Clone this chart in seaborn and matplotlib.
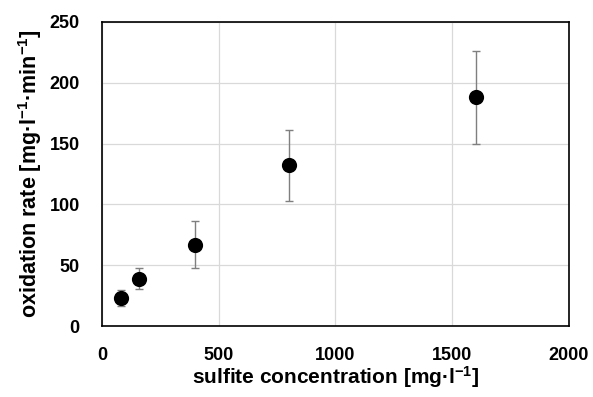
import matplotlib
matplotlib.use("Agg")
import matplotlib.pyplot as plt
import seaborn as sns
import pandas as pd

concentration = [80, 160, 400, 800, 1600]
rate = [23, 39, 67, 132, 188]
rate_err = [6.5, 8.5, 19.5, 29, 38.5]
x_ticks = [0, 500, 1000, 1500, 2000]
y_ticks = [0, 50, 100, 150, 200, 250]

sns.set_theme(style="whitegrid")
FONT = 'Liberation Sans'
plt.rcParams['font.family'] = [FONT, 'DejaVu Sans']
plt.rcParams['font.weight'] = 'bold'
plt.rcParams['mathtext.fontset'] = 'custom'
plt.rcParams['mathtext.rm'] = FONT + ':bold'
plt.rcParams['mathtext.it'] = FONT + ':bold'
plt.rcParams['mathtext.bf'] = FONT + ':bold'
plt.rcParams['mathtext.default'] = 'rm'

df = pd.DataFrame({"conc": concentration, "rate": rate, "err": rate_err})

fig, ax = plt.subplots(figsize=(5.93, 3.97), dpi=100)
fig.subplots_adjust(left=0.172, right=0.9595, top=0.9446, bottom=0.1788)

ax.errorbar(df["conc"], df["rate"], yerr=df["err"], fmt='none',
            ecolor='#7f7f7f', elinewidth=1.0, capsize=3, capthick=1.0, zorder=2)
sns.scatterplot(data=df, x="conc", y="rate", ax=ax, color='black', s=120,
                edgecolor='black', linewidth=0, zorder=3)

ax.set_xlim(0, 2000)
ax.set_ylim(0, 250)
ax.set_xticks(x_ticks)
ax.set_yticks(y_ticks)
ax.tick_params(axis='x', labelsize=13, length=0, pad=15)
ax.tick_params(axis='y', labelsize=13, length=0, pad=16)
for lab in ax.get_xticklabels() + ax.get_yticklabels():
    lab.set_fontweight('bold')
    lab.set_color('black')
ax.grid(True, color='#d9d9d9', linewidth=0.9)
for sp in ax.spines.values():
    sp.set_color('black')
    sp.set_linewidth(1.2)

ax.set_xlabel('sulfite concentration [mg·l$^{-1}$]', fontsize=15, fontweight='bold',
              labelpad=0, color='black')
ax.set_ylabel('oxidation rate [mg·l$^{-1}$·min$^{-1}$]', fontsize=15.5, fontweight='bold',
              labelpad=4, color='black')

fig.savefig("out.png", dpi=100)
